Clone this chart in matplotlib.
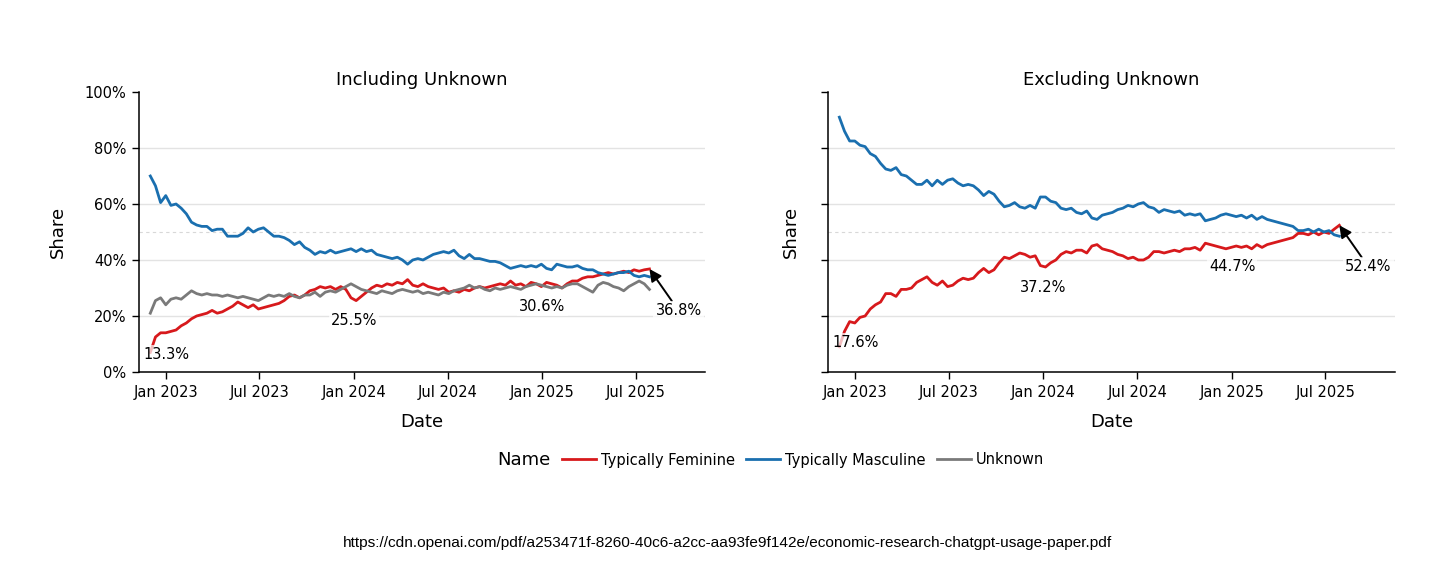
import matplotlib
matplotlib.use('Agg')
import matplotlib.pyplot as plt
from matplotlib.lines import Line2D
import pandas as pd

# ---------------- data (10-day sampling) ----------------
dates = pd.date_range('2022-12-01', periods=98, freq='10D')

left_fem = [7, 12.5, 14, 14, 14.5, 15, 16.5, 17.5, 19, 20, 20.5, 21, 22, 21, 21.5, 22.5, 23.5, 25, 24, 23,
            24, 22.5, 23, 23.5, 24, 24.5, 25.5, 27, 27.5, 26.5, 27.5, 29, 29.5,
            30.5, 30, 30.5, 29.5, 30.5, 29.5, 26.5, 25.5, 27, 28.5, 30, 31, 30.5, 31.5, 31, 32, 31.5, 33,
            31, 30.5, 31.5, 30.5, 30, 29.5, 30, 28.5, 29, 28.5, 29.5, 29, 30, 30.5,
            30, 30.5, 31, 31.5, 31, 32.5, 31, 31.5, 30.5, 32, 31.5, 30.5, 32, 31.5, 31, 30, 31.5, 32.5,
            32.5, 33.5, 34, 34, 34.5, 35, 35.5, 35, 35.5, 36, 35.5, 36.5, 36, 36.5, 36.8]
left_masc = [70, 66.5, 60.5, 63, 59.5, 60, 58.5, 56.5, 53.5, 52.5, 52, 52, 50.5, 51, 51, 48.5, 48.5, 48.5,
             49.5, 51.5, 50, 51, 51.5, 50, 48.5, 48.5, 48, 47, 45.5, 46.5, 44.5, 43.5, 42,
             43, 42.5, 43.5, 42.5, 43, 43.5, 44, 43, 44, 43, 43.5, 42, 41.5, 41, 40.5, 41, 40, 38.5, 40,
             40.5, 40, 41, 42, 42.5, 43, 42.5, 43.5, 41.5, 40.5, 42, 40.5, 40.5,
             40, 39.5, 39.5, 39, 38, 37, 37.5, 38, 37.5, 38, 37.5, 38.5, 37, 36.5, 38.5, 38, 37.5, 37.5,
             38, 37, 36.5, 36.5, 35.5, 35, 34.5, 35, 35.5, 35.5, 36, 34.5, 34, 34.5, 34]
left_unk = [21, 25.5, 26.5, 24, 26, 26.5, 26, 27.5, 29, 28, 27.5, 28, 27.5, 27.5, 27, 27.5, 27, 26.5, 27,
            26.5, 26, 25.5, 26.5, 27.5, 27, 27.5, 27, 28, 27, 26.5, 27.5, 27.5, 28.5,
            27, 28.5, 29, 28.5, 29.5, 30.5, 31.5, 30.5, 29.5, 29, 28.5, 28, 29, 28.5, 28, 29, 29.5, 29,
            28.5, 29, 28, 28.5, 28, 27.5, 28.5, 28, 29, 29.5, 30, 31, 30, 30.5,
            29.5, 29, 30, 29.5, 30, 30.5, 30, 29.5, 30.5, 31, 31.5, 31, 30.5, 30, 30.5, 30, 31, 31.5,
            31.5, 30.5, 29.5, 28.5, 31, 32, 31.5, 30.5, 30, 29, 30.5, 31.5, 32.5, 31.5, 29.5]

right_fem = [9, 14.5, 18, 17.5, 19.5, 20, 22.5, 24, 25, 28, 28, 27, 29.5, 29.5, 30, 32, 33, 34, 32, 31,
             32.5, 30.5, 31, 32.5, 33.5, 33, 33.5, 35.5, 37, 35.5, 36.5, 39, 41,
             40.5, 41.5, 42.5, 42, 41, 41.5, 38, 37.5, 39, 40, 42, 43, 42.5, 43.5, 43.5, 42.5, 45, 45.5,
             44, 43.5, 43, 42, 41.5, 40.5, 41, 40, 40, 41, 43, 43, 42.5, 43,
             43.5, 43, 44, 44, 44.5, 43.5, 46, 45.5, 45, 44.5, 44, 44.5, 45, 44.5, 45, 44, 45.5, 44.5,
             45.5, 46, 46.5, 47, 47.5, 48, 49.5, 49.5, 49, 50, 49, 50, 49.5, 51, 52.4]
right_masc = [91, 86, 82.5, 82.5, 81, 80.5, 78, 77, 74.5, 72.5, 72, 73, 70.5, 70, 68.5, 67, 67, 68.5, 66.5,
              68.5, 67, 68.5, 69, 67.5, 66.5, 67, 66.5, 65, 63, 64.5, 63.5, 61, 59,
              59.5, 60.5, 59, 58.5, 59.5, 58.5, 62.5, 62.5, 61, 60.5, 58.5, 58, 58.5, 57, 56.5, 57.5, 55,
              54.5, 56, 56.5, 57, 58, 58.5, 59.5, 59, 60, 60.5, 59, 58.5, 57, 58, 57.5,
              57, 57.5, 56, 56.5, 56, 56.5, 54, 54.5, 55, 56, 56.5, 56, 55.5, 56, 55, 56, 54.5, 55.5,
              54.5, 54, 53.5, 53, 52.5, 52, 50.5, 50.5, 51, 50, 51, 50, 50.5, 49, 48.5]

series_names = ['Typically Feminine', 'Typically Masculine', 'Unknown']
colors = ['#d7191c', '#1a6faf', '#7a7a7a']

annot_dates = ['2023-01-01', '2024-01-01', '2025-01-01']
left_annot = [13.3, 25.5, 30.6]
left_last = 36.8
right_annot = [17.6, 37.2, 44.7]
right_last = 52.4

xtick_dates = ['2023-01-01', '2023-07-01', '2024-01-01', '2024-07-01', '2025-01-01', '2025-07-01']
xtick_labels = ['Jan 2023', 'Jul 2023', 'Jan 2024', 'Jul 2024', 'Jan 2025', 'Jul 2025']
yticks = [0, 20, 40, 60, 80, 100]

source = 'https://cdn.openai.com/pdf/a253471f-8260-40c6-a2cc-aa93fe9f142e/economic-research-chatgpt-usage-paper.pdf'

# ---------------- figure ----------------
plt.rcParams['font.family'] = ['DejaVu Sans']
W, H = 1456, 569
fig = plt.figure(figsize=(W / 100, H / 100), dpi=100)
axL = fig.add_axes([139 / W, 1 - 372 / H, 566 / W, 280 / H])
axR = fig.add_axes([828 / W, 1 - 372 / H, 567 / W, 280 / H])

def style(ax, title, ylabel_x, show_ylabels):
    ax.set_xlim(pd.Timestamp('2022-11-09'), pd.Timestamp('2025-11-13'))
    ax.set_ylim(0, 100)
    for s in ['top', 'right']:
        ax.spines[s].set_visible(False)
    for s in ['left', 'bottom']:
        ax.spines[s].set_linewidth(1.1)
        ax.spines[s].set_color('black')
    ax.set_xticks(pd.to_datetime(xtick_dates))
    ax.set_xticklabels(xtick_labels)
    ax.set_yticks(yticks)
    if show_ylabels:
        ax.set_yticklabels([f'{v}%' for v in yticks])
    else:
        ax.set_yticklabels([])
    ax.tick_params(direction='out', length=5, width=1, colors='black', labelsize=10.5, pad=4)
    for g in [20, 40, 60, 80]:
        ax.axhline(g, color='#e3e3e3', lw=1, zorder=0)
    ax.axhline(50, color='#d8d8d8', lw=0.8, ls=(0, (3, 3)), zorder=0)
    ax.set_title(title, fontsize=13, pad=5)
    ax.set_ylabel('Share', fontsize=13)
    ax.yaxis.set_label_coords(ylabel_x, 0.5)
    ax.set_xlabel('Date', fontsize=13)
    ax.xaxis.set_label_coords(0.5, -0.145)

def annotate(ax, vals, last):
    box = dict(boxstyle='square,pad=0.15', fc='white', ec='none', alpha=0.72)
    for d, v in zip(annot_dates, vals):
        ax.annotate(f'{v}%', xy=(pd.Timestamp(d), v), xytext=(0, -14.4),
                    textcoords='offset points', ha='center', va='center',
                    fontsize=10.5, bbox=box, zorder=5)
    ax.annotate(f'{last}%', xy=(dates[-1], last), xytext=(21, -30),
                textcoords='offset points', ha='center', va='center', fontsize=10.5,
                bbox=box, zorder=5,
                arrowprops=dict(arrowstyle='-|>', color='black', lw=1.4,
                                mutation_scale=18, shrinkA=0, shrinkB=0))

for vals, c in zip([left_fem, left_masc, left_unk], colors):
    axL.plot(dates, vals, color=c, lw=2.0, zorder=2)
for vals, c in zip([right_fem, right_masc], colors[:2]):
    axR.plot(dates, vals, color=c, lw=2.0, zorder=2)

style(axL, 'Including Unknown', -0.127, True)
style(axR, 'Excluding Unknown', -0.049, False)
annotate(axL, left_annot, left_last)
annotate(axR, right_annot, right_last)

handles = [Line2D([], [], color=c, lw=2) for c in colors]
fig.text(497 / W, 1 - 460 / H, 'Name', fontsize=13, va='center', ha='left')
fig.legend(handles, series_names, loc='center left', bbox_to_anchor=(562 / W, 1 - 460 / H),
           ncol=3, frameon=False, fontsize=10.5, handlelength=2.3, handletextpad=0.35,
           columnspacing=0.8, borderpad=0, borderaxespad=0)

fig.text(0.5, 1 - 543 / H, source, ha='center', va='center', fontsize=11.1,
         family=['Liberation Sans', 'DejaVu Sans'])

fig.savefig('out.png', dpi=100)
